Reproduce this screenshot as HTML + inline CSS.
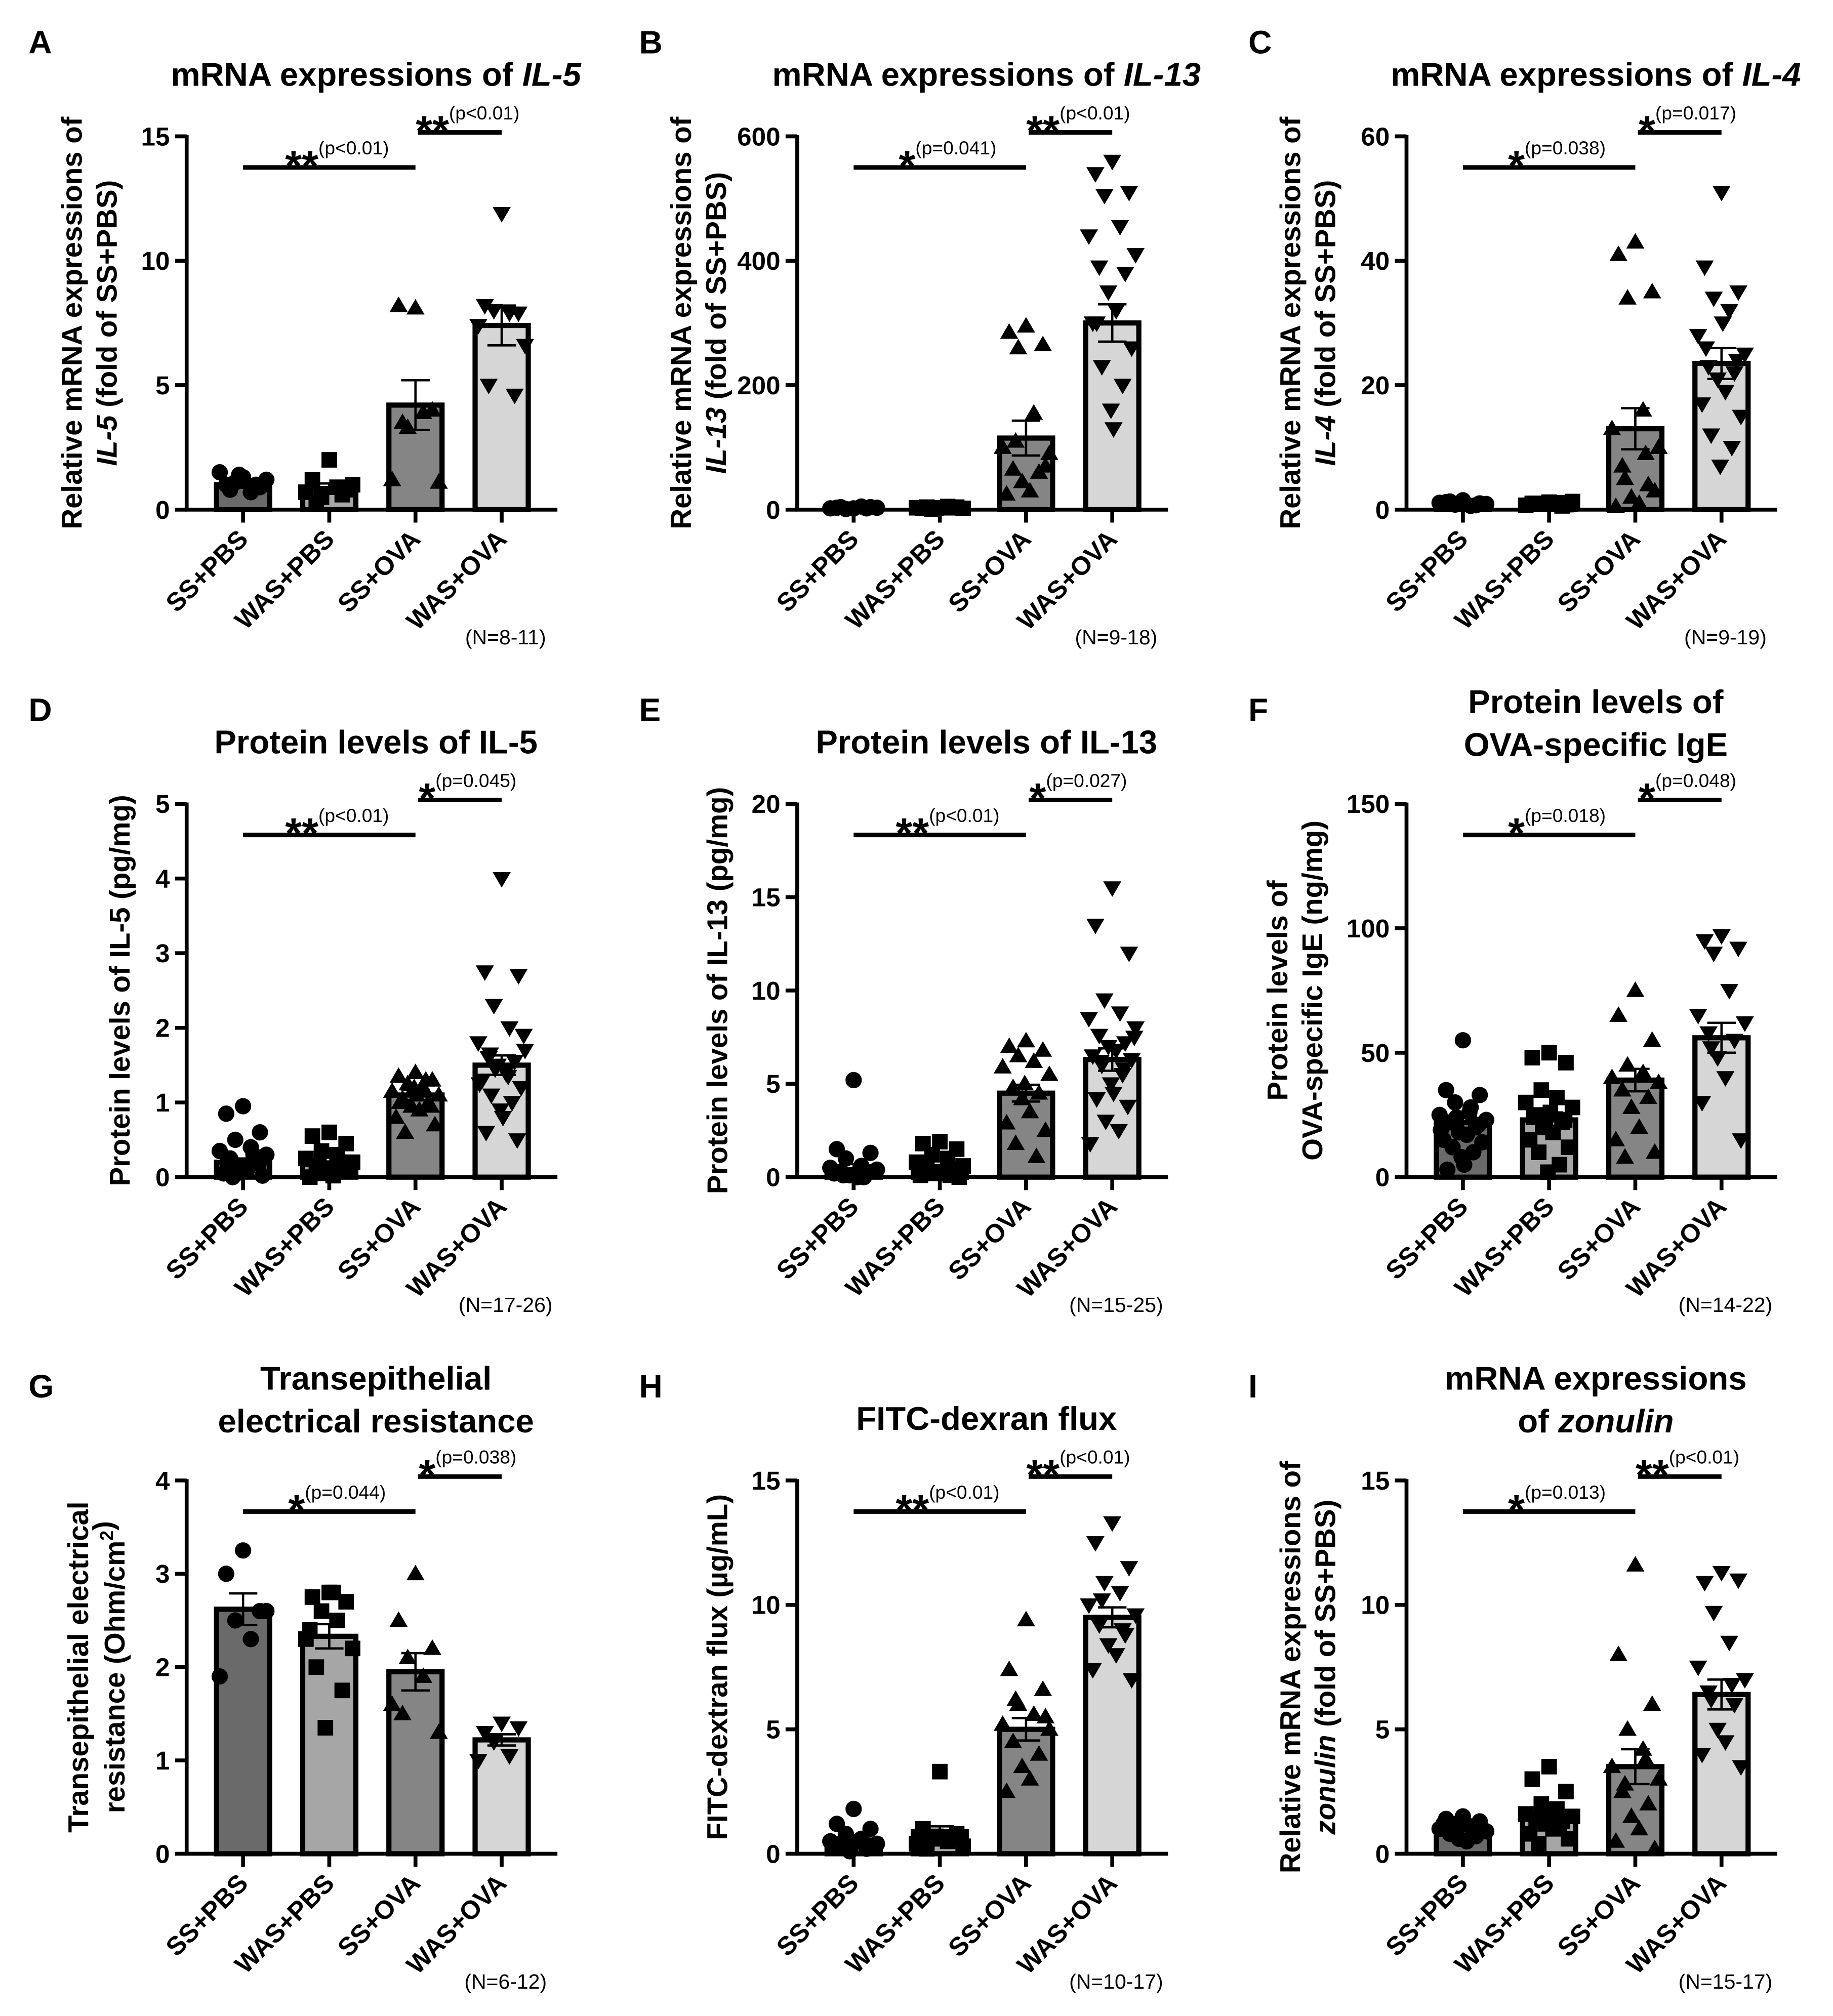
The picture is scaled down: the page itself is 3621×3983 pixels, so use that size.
<!DOCTYPE html>
<html><head><meta charset="utf-8"><style>
html,body{margin:0;padding:0;background:#fff;}
svg{display:block;font-family:"Liberation Sans",Arial,sans-serif;}
</style></head><body>
<svg id="fig" xmlns="http://www.w3.org/2000/svg" width="3621" height="3983" viewBox="0 0 1414 1555"></svg>
<script>
const groups = ["SS+PBS","WAS+PBS","SS+OVA","WAS+OVA"];
const fills = ["#6a6a6a","#a6a6a6","#858585","#d6d6d6"];
// Panel A
const aTicks=[0,5,10,15]; const aMeans=[1.0,0.85,4.2,7.4]; const aSem=[0.12,0.2,1.0,0.8];
const aPts0=[1.3,1.0,0.9,1.1,0.7,1.5,1.2,0.8,1.0,1.4];
const aPts1=[2.0,1.2,0.8,0.5,0.9,0.7,1.0,0.3,0.6];
const aPts2=[8.1,8.2,4.0,3.3,3.9,1.2,1.1,3.5];
const aPts3=[11.9,8.2,7.9,8.0,7.9,7.4,6.6,5.0,4.6];
// Panel B
const bTicks=[0,200,400,600]; const bMeans=[3,3,115,300]; const bSem=[0.5,0.5,28,30];
const bPts0=[2,3,4,1,5,2,3,4,2];
const bPts1=[3,2,4,1,5,3,2,4,3,2];
const bPts2=[295,285,265,260,155,100,90,65,60,45,30,25,70,110];
const bPts3=[560,540,510,505,455,440,410,390,380,350,320,300,260,230,200,160,130,300];
// Panel C
const cTicks=[0,20,40,60]; const cMeans=[1,1,13,23.5]; const cSem=[0.2,0.2,3.3,2.5];
const cPts0=[1.5,1.2,1.0,0.8,0.6,1.1,0.9,1.3,0.7];
const cPts1=[1.2,1.0,0.8,0.9,1.1,0.7,1.3,1.0,0.6];
const cPts2=[43,41,35,34,16,13,10,7,4,2,1,0.5,3,5,9];
const cPts3=[51,39,35,34,32,28,25,23,22,21,19,17,15,12,10,7,30,26,24];
// Panel D
const dTicks=[0,1,2,3,4,5]; const dMeans=[0.2,0.17,1.1,1.5]; const dSem=[0.05,0.04,0.07,0.13];
const dPts0=[0.95,0.85,0.6,0.5,0.4,0.35,0.3,0.25,0.2,0.15,0.1,0.05,0.02,0.0,0.3,0.12,0.08,0.2,0.18,0.05];
const dPts1=[0.6,0.55,0.45,0.35,0.3,0.25,0.2,0.15,0.1,0.05,0.02,0.0,0.1,0.15,0.2,0.08,0.05];
const dPts2=[1.4,1.35,1.3,1.25,1.2,1.15,1.1,1.05,1.0,0.95,0.9,0.8,0.7,0.6,1.3,1.2,1.1,1.0,0.95];
const dPts3=[4.0,2.75,2.7,2.3,2.0,1.8,1.7,1.6,1.55,1.5,1.4,1.3,1.2,1.1,1.0,0.9,0.8,0.6,0.5,1.45,1.35,1.25,1.9,1.65];
// Panel E
const eTicks=[0,5,10,15,20]; const eMeans=[0.4,0.4,4.5,6.3]; const eSem=[0.3,0.2,0.45,0.6];
const ePts0=[5.2,1.5,1.3,1.0,0.6,0.5,0.4,0.3,0.2,0.1,0,0.2,0.3,0.1,0];
const ePts1=[1.9,1.8,1.5,1.2,1.0,0.8,0.6,0.5,0.4,0.3,0.2,0.1,0,0.2,0.1];
const ePts2=[7.3,7.0,6.8,6.5,6.2,5.9,5.5,4.8,4.5,4.2,3.5,2.9,2.5,1.8,1.1,5.0];
const ePts3=[15.5,13.5,12.0,9.5,8.8,8.5,8.0,7.6,7.2,7.0,6.8,6.5,6.3,6.0,5.5,5.0,4.5,4.2,3.8,3.0,2.5,1.8,7.5,6.2,5.8];
// Panel F
const fTicks=[0,50,100,150]; const fMeans=[22,23,39,56]; const fSem=[2.5,3,4.5,6];
const fPts0=[55,35,33,30,28,25,23,22,20,18,17,15,14,12,10,8,5,3,21,24,26,19];
const fPts1=[50,48,46,35,32,30,28,25,22,20,18,15,12,10,5,2,26,24,23,21];
const fPts2=[75,65,55,45,42,40,38,35,32,28,20,15,10,8];
const fPts3=[97,95,92,90,75,65,62,58,55,48,40,30,15,52];
// Panel G
const gTicks=[0,1,2,3,4]; const gMeans=[2.62,2.33,1.95,1.22]; const gSem=[0.17,0.13,0.2,0.06];
const gPts0=[3.25,3.0,2.6,2.5,2.3,1.9,2.6];
const gPts1=[2.8,2.75,2.7,2.6,2.5,2.3,2.2,2.0,1.75,1.35,2.8,2.4];
const gPts2=[3.0,2.5,2.2,2.1,1.9,1.6,1.3,1.5];
const gPts3=[1.4,1.3,1.35,1.2,1.05,1.0];
// Panel H
const hTicks=[0,5,10,15]; const hMeans=[0.55,0.9,5.0,9.5]; const hSem=[0.12,0.2,0.45,0.4];
const hPts0=[1.8,1.2,1.0,0.8,0.6,0.5,0.4,0.3,0.2,0.1,0.5,0.4];
const hPts1=[3.3,1.0,0.8,0.6,0.5,0.4,0.3,0.2,0.6,0.7];
const hPts2=[9.4,7.4,6.6,6.0,5.6,5.2,5.0,4.5,4.0,3.5,3.0,2.5,5.5,6.2];
const hPts3=[13.3,12.5,11.5,10.9,10.5,10.0,9.6,9.2,8.8,8.4,8.0,7.4,7.0,10.2,9.0];
// Panel I
const iTicks=[0,5,10,15]; const iMeans=[1.0,1.5,3.5,6.4]; const iSem=[0.1,0.2,0.7,0.6];
const iPts0=[1.5,1.4,1.3,1.2,1.1,1.0,0.9,0.8,0.7,0.6,0.5,1.2,1.0,0.9,1.1];
const iPts1=[3.5,3.0,2.5,2.0,1.8,1.6,1.5,1.4,1.3,1.2,1.0,0.8,0.6,0.4,1.1,1.7];
const iPts2=[11.6,8.0,6.0,5.0,4.2,3.5,3.0,2.5,2.0,1.5,1.0,0.5,0.2,2.8,3.8];
const iPts3=[11.3,10.9,11.0,9.7,8.5,7.5,7.0,6.5,6.0,5.0,4.5,4.0,3.5,6.2,6.8];

const sigLabels = {
 A:[["**","(p<0.01)"],["**","(p<0.01)"]], B:[["*","(p=0.041)"],["**","(p<0.01)"]],
 C:[["*","(p=0.038)"],["*","(p=0.017)"]], D:[["**","(p<0.01)"],["*","(p=0.045)"]],
 E:[["**","(p<0.01)"],["*","(p=0.027)"]], F:[["*","(p=0.018)"],["*","(p=0.048)"]],
 G:[["*","(p=0.044)"],["*","(p=0.038)"]], H:[["**","(p<0.01)"],["**","(p<0.01)"]],
 I:[["*","(p=0.013)"],["**","(p<0.01)"]]
};

const NS="http://www.w3.org/2000/svg";
const svg=document.getElementById('fig');
function el(tag,attrs,parent){const e=document.createElementNS(NS,tag);for(const k in attrs)e.setAttribute(k,attrs[k]);(parent||svg).appendChild(e);return e;}

const colX=[144,615,1085], rowY=[393,908,1430];
const panels=[
 {id:"A",c:0,r:0,ytx:[-81,-54],ticks:aTicks,means:aMeans,sem:aSem,pts:[aPts0,aPts1,aPts2,aPts3],n:"(N=8-11)",title:[[["mRNA expressions of ",0],["IL-5",1]]],yt:[[["Relative mRNA expressions of",0]],[["IL-5",1],[" (fold of SS+PBS)",0]]]},
 {id:"B",c:1,r:0,ytx:[-82,-55],ticks:bTicks,means:bMeans,sem:bSem,pts:[bPts0,bPts1,bPts2,bPts3],n:"(N=9-18)",title:[[["mRNA expressions of ",0],["IL-13",1]]],yt:[[["Relative mRNA expressions of",0]],[["IL-13",1],[" (fold of SS+PBS)",0]]]},
 {id:"C",c:2,r:0,ytx:[-82,-55],ticks:cTicks,means:cMeans,sem:cSem,pts:[cPts0,cPts1,cPts2,cPts3],n:"(N=9-19)",title:[[["mRNA expressions of ",0],["IL-4",1]]],yt:[[["Relative mRNA expressions of",0]],[["IL-4",1],[" (fold of SS+PBS)",0]]]},
 {id:"D",c:0,r:1,ytx:[-44],ticks:dTicks,means:dMeans,sem:dSem,pts:[dPts0,dPts1,dPts2,dPts3],n:"(N=17-26)",title:[[["Protein levels of IL-5",0]]],yt:[[["Protein levels of IL-5 (pg/mg)",0]]]},
 {id:"E",c:1,r:1,ytx:[-54],ticks:eTicks,means:eMeans,sem:eSem,pts:[ePts0,ePts1,ePts2,ePts3],n:"(N=15-25)",title:[[["Protein levels of IL-13",0]]],yt:[[["Protein levels of IL-13 (pg/mg)",0]]]},
 {id:"F",c:2,r:1,ytx:[-92,-65],ticks:fTicks,means:fMeans,sem:fSem,pts:[fPts0,fPts1,fPts2,fPts3],n:"(N=14-22)",title:[[["Protein levels of",0]],[["OVA-specific IgE",0]]],yt:[[["Protein levels of",0]],[["OVA-specific IgE (ng/mg)",0]]]},
 {id:"G",c:0,r:2,ytx:[-76,-48],ticks:gTicks,means:gMeans,sem:gSem,pts:[gPts0,gPts1,gPts2,gPts3],n:"(N=6-12)",title:[[["Transepithelial",0]],[["electrical resistance",0]]],yt:[[["Transepithelial electrical",0]],[["resistance (Ohm/cm",0],["2",2],[")",0]]]},
 {id:"H",c:1,r:2,ytx:[-54],ticks:hTicks,means:hMeans,sem:hSem,pts:[hPts0,hPts1,hPts2,hPts3],n:"(N=10-17)",title:[[["FITC-dexran flux",0]]],yt:[[["FITC-dextran flux (\u00b5g/mL)",0]]]},
 {id:"I",c:2,r:2,ytx:[-82,-55],ticks:iTicks,means:iMeans,sem:iSem,pts:[iPts0,iPts1,iPts2,iPts3],n:"(N=15-17)",title:[[["mRNA expressions",0]],[["of ",0],["zonulin",1]]],yt:[[["Relative mRNA expressions of",0]],[["zonulin",1],[" (fold of SS+PBS)",0]]]}
];
const jit=[0,-13,13,-6,6,-18,18,-10,10,-3,3,-15,15,-8,8,-1,1,-12,12,-5,5,-17,17,-9,9];

function addSpans(t,parts){
 parts.forEach(p=>{const s=el('tspan',{},t);s.textContent=p[0];
  if(p[1]===1)s.setAttribute('font-style','italic');
  if(p[1]===2){s.setAttribute('font-size','14');s.setAttribute('dy','-9');}
 });
}

panels.forEach(P=>{
 const ox=colX[P.c], y0=rowY[P.r], H=288, W=286;
 const g=el('g',{});
 
 
 const ymax=P.ticks[P.ticks.length-1];
 const Y=v=>y0-v/ymax*H;
 const X=i=>ox+43.5+66.5*i;
 const L=el('text',{x:ox-122,y:y0-352,'font-size':25,'font-weight':'bold'},g);
 L.textContent=P.id;
 
 
 const tl=P.title.length;
 P.title.forEach((line,k)=>{
  const yy = tl===1 ? y0-327 : y0-358+33*k;
  const t=el('text',{x:ox+146,y:yy,'font-size':25.5,'font-weight':'bold','text-anchor':'middle'},g);
  addSpans(t,line);
  
  
 });
 const yc=y0-144;
 P.yt.forEach((line,k)=>{
  const xx = ox+P.ytx[k];
  const t=el('text',{x:xx,y:yc,'font-size':22,'font-weight':'bold','text-anchor':'middle',transform:`rotate(-90 ${xx} ${yc})`},g);
  addSpans(t,line);
  
  
 });
 P.means.forEach((m,i)=>{
  const r=el('rect',{x:X(i)-20.5,y:Y(m),width:41,height:y0-Y(m),fill:fills[i],stroke:'#000','stroke-width':4},g);
  
  
 });
 P.pts.forEach((arr,i)=>{
  arr.forEach((v,j)=>{
   const cx=X(i)+jit[j%jit.length], cy=Y(v);
   let m;
   if(i===0) m=el('circle',{cx:cx,cy:cy,r:6.3,fill:'#000'},g);
   else if(i===1) m=el('rect',{x:cx-6,y:cy-6,width:12,height:12,fill:'#000'},g);
   else if(i===2) m=el('polygon',{points:`${cx},${cy-7} ${cx-7},${cy+5} ${cx+7},${cy+5}`,fill:'#000'},g);
   else m=el('polygon',{points:`${cx},${cy+7} ${cx-7},${cy-5} ${cx+7},${cy-5}`,fill:'#000'},g);
   
   
  });
 });
 P.means.forEach((m,i)=>{
  const s=P.sem[i], x=X(i);
  const e=el('path',{d:`M${x} ${Y(m-s)}V${Y(m+s)}M${x-11} ${Y(m+s)}H${x+11}M${x-11} ${Y(m-s)}H${x+11}`,stroke:'#000','stroke-width':1.8,fill:'none'},g);
  
  
 });
 const ax=el('path',{d:`M${ox} ${y0-H-1}V${y0}H${ox+W}`,stroke:'#000','stroke-width':3,fill:'none'},g);
 
 
 P.ticks.forEach(tv=>{
  const tk=el('line',{x1:ox-9,x2:ox,y1:Y(tv),y2:Y(tv),stroke:'#000','stroke-width':3},g);
  
  
  const tt=el('text',{x:ox-13,y:Y(tv)+7,'font-size':20,'font-weight':'bold','text-anchor':'end'},g);
  tt.textContent=tv;
  
  
 });
 groups.forEach((gn,i)=>{
  const tk=el('line',{x1:X(i),x2:X(i),y1:y0,y2:y0+10,stroke:'#000','stroke-width':3},g);
  
  
  const lx=X(i)+5, ly=y0+24;
  const tt=el('text',{x:lx,y:ly,'font-size':20,'font-weight':'bold','text-anchor':'end',transform:`rotate(-45 ${lx} ${ly})`},g);
  tt.textContent=gn;
  
  
 });
 const sl=sigLabels[P.id];
 const brs=[[X(0),X(2),y0-264],[X(2)+2,X(3),y0-291]];
 brs.forEach((b,k)=>{
  const ln=el('line',{x1:b[0],x2:b[1],y1:b[2],y2:b[2],stroke:'#000','stroke-width':3.5},g);
  
  
  const t=el('text',{x:(b[0]+b[1])/2+6,y:b[2]+10,'text-anchor':'middle'},g);
  const s1=el('tspan',{'font-size':33,'font-weight':'bold'},t); s1.textContent=sl[k][0];
  const s2=el('tspan',{'font-size':14.5,dy:-20},t); s2.textContent=sl[k][1];
  
  
 });
 const nt=el('text',{x:ox+246,y:y0+104,'font-size':16,'text-anchor':'middle'},g);
 nt.textContent=P.n;
 
 
});
</script>
</body></html>
